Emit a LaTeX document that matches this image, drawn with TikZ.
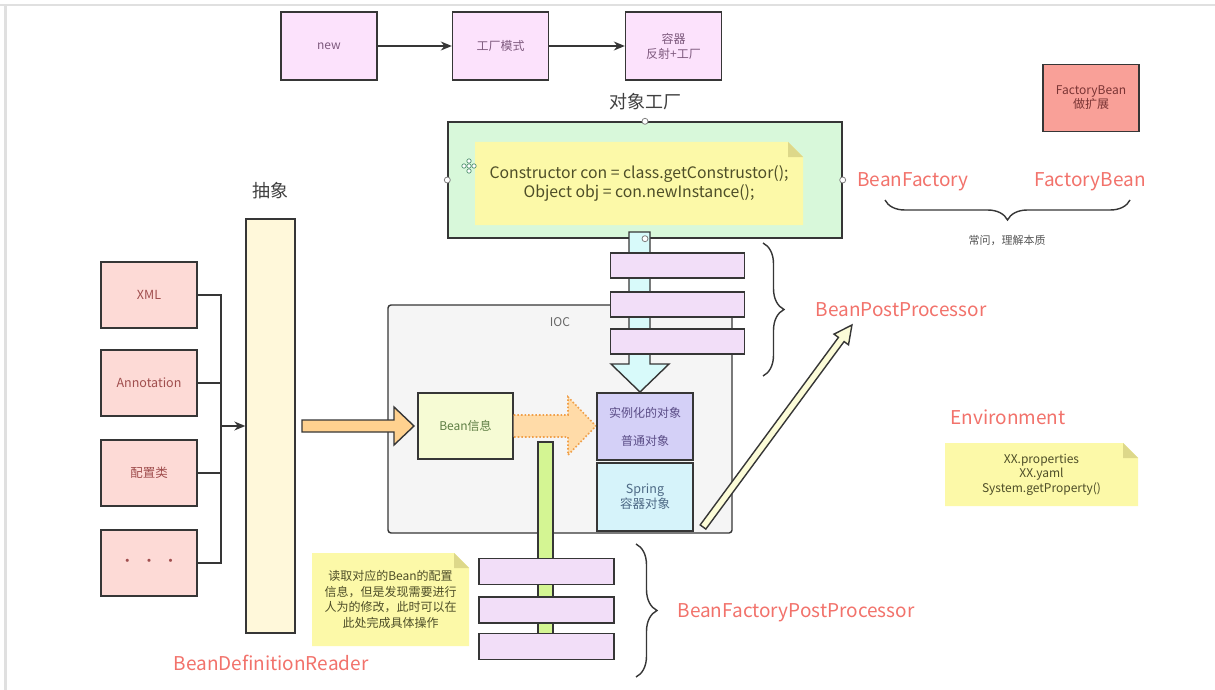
\documentclass[tikz,border=0pt]{standalone}
\usepackage{fontspec}
\setmainfont{Noto Sans CJK SC}
\usetikzlibrary{arrows.meta,decorations.pathreplacing,calc}
\definecolor{edge}{HTML}{363636}
\definecolor{topfill}{HTML}{FCE2FC}
\definecolor{toptext}{HTML}{7E5A7E}
\definecolor{facfill}{HTML}{D8F8DA}
\definecolor{notefill}{HTML}{FCF9A8}
\definecolor{foldfill}{HTML}{DDD88A}
\definecolor{notetext}{HTML}{4E4E28}
\definecolor{fbfill}{HTML}{F9A098}
\definecolor{fbtext}{HTML}{7A3434}
\definecolor{absfill}{HTML}{FFF8DA}
\definecolor{srcfill}{HTML}{FDDAD6}
\definecolor{srctext}{HTML}{A04E4E}
\definecolor{iocfill}{HTML}{F5F5F5}
\definecolor{beanfill}{HTML}{F6FBD4}
\definecolor{beantext}{HTML}{5E7E44}
\definecolor{instfill}{HTML}{D4D0F7}
\definecolor{insttext}{HTML}{5A4C86}
\definecolor{sprfill}{HTML}{D6F3FA}
\definecolor{sprtext}{HTML}{4E6A86}
\definecolor{cyanfill}{HTML}{D8FAFA}
\definecolor{barfill}{HTML}{F2DEF8}
\definecolor{greenbar}{HTML}{D4F593}
\definecolor{redlbl}{HTML}{F2726B}
\definecolor{orangefill}{HTML}{FFD18F}
\definecolor{dotfill}{HTML}{FFDBA8}
\definecolor{dotedge}{HTML}{F0A04A}
\definecolor{creamfill}{HTML}{FCFCD8}
\definecolor{graytext}{HTML}{555555}
\definecolor{iconcol}{HTML}{4E8E6E}
\begin{document}
\begin{tikzpicture}[x=1pt,y=-1pt,
  box/.style={draw=edge, line width=1.4pt, align=center, inner sep=1pt, font=\fontsize{12}{15}\selectfont},
  topbox/.style={box, fill=topfill, text=toptext, minimum width=96, minimum height=68},
  srcbox/.style={box, fill=srcfill, text=srctext, minimum width=96, minimum height=66, font=\fontsize{12.5}{15}\selectfont},
  barbox/.style={draw=edge, line width=1.4pt, fill=barfill, minimum width=134, minimum height=25, inner sep=0pt},
  conn/.style={draw=edge, line width=1.4pt, -{Stealth[length=11pt,width=9pt]}},
  plain/.style={draw=edge, line width=1.4pt},
  redlabel/.style={text=redlbl, font=\fontsize{19}{22}\selectfont, inner sep=0pt},
  handle/.style={circle, draw=gray, fill=white, line width=0.8pt, inner sep=0pt, minimum size=6pt},
  bracestyle/.style={draw=edge, line width=1.4pt, decorate, decoration={brace, amplitude=#1}},
  notebox/.style={align=center, text=notetext, inner sep=0pt, path picture={
    \fill[notefill] (path picture bounding box.north west)
      -- ([xshift=-15pt]path picture bounding box.north east)
      -- ([yshift=-15pt]path picture bounding box.north east)
      -- (path picture bounding box.south east)
      -- (path picture bounding box.south west) -- cycle;
    \fill[foldfill] ([xshift=-15pt]path picture bounding box.north east)
      -- ([xshift=-15pt,yshift=-15pt]path picture bounding box.north east)
      -- ([yshift=-15pt]path picture bounding box.north east) -- cycle;}}
]
\useasboundingbox (0,0) rectangle (1215,690);
\fill[white] (0,0) rectangle (1215,690);
\draw[black!12, line width=1.5pt] (0,5) -- (1215,5);
\draw[black!12, line width=3pt] (5,5) -- (5,690);

% top flow
\node[topbox] (new) at (329,46) {new};
\node[topbox] (fac) at (500.5,46) {工厂模式};
\node[topbox] (ctn) at (673.5,46) {容器\\反射+工厂};
\draw[conn] (new) -- (fac);
\draw[conn] (fac) -- (ctn);

% object factory
\node[text=black!75, font=\fontsize{18}{20}\selectfont] (objlbl) at (645,102) {对象工厂};
\node[draw=edge, line width=1.4pt, fill=facfill, minimum width=394, minimum height=116, inner sep=0pt] (objfac) at (645,180) {};
\node[notebox, minimum width=328, minimum height=83, font=\fontsize{15.8}{18.5}\selectfont] (code) at (639,183.5)
  {Constructor con = class.getConstrustor();\\Object obj = con.newInstance();};
\foreach \dx/\dy in {0/-5,0/5,-5/0,5/0,0/0}
  \draw[iconcol, line width=0.7pt, fill=white] ($(469,166)+(\dx,\dy)$) circle (2.2);

% BeanFactory / FactoryBean
\node[redlabel] (bf) at (913,182) {BeanFactory};
\node[redlabel] (fb) at (1090,182) {FactoryBean};
\draw[bracestyle=20] (1130,200) -- (885,200);
\node[text=graytext, font=\fontsize{11}{13}\selectfont] (ask) at (1007,240) {常问，理解本质};
\node[box, fill=fbfill, text=fbtext, minimum width=96, minimum height=67, font=\fontsize{12}{14}\selectfont] (fbx) at (1091,98) {FactoryBean\\做扩展};

% left sources
\node[text=black!75, font=\fontsize{18}{20}\selectfont] (abslbl) at (270,191) {抽象};
\node[draw=edge, line width=1.4pt, fill=absfill, minimum width=49, minimum height=414, inner sep=0pt] (abs) at (270.5,426) {};
\node[srcbox] (xml) at (149,295) {XML};
\node[srcbox] (ann) at (149,383) {Annotation};
\node[srcbox] (cfg) at (149,473) {配置类};
\node[srcbox, font=\fontsize{15}{15}\selectfont] (etc) at (149,563) {·\ \ ·\ \ ·};
\coordinate (jn) at (221,426);
\draw[plain] (xml.east) -| (jn);
\draw[plain] (ann.east) -| (jn);
\draw[plain] (cfg.east) -| (jn);
\draw[plain] (etc.east) -| (jn);
\draw[conn] (jn) -- (abs.west);

% IOC container
\draw[draw=edge, line width=1.4pt, fill=iocfill, rounded corners=3pt] (388,305) rectangle (732,533);
\node[text=black!60, font=\fontsize{12}{14}\selectfont] (ioclbl) at (560,322) {IOC};

\draw[plain, fill=greenbar] (538,442) rectangle (553,645);

\node[box, fill=beanfill, text=beantext, minimum width=95, minimum height=66] (bean) at (465.5,426) {Bean信息};
\draw[plain, fill=orangefill] (302,420) -- (394,420) -- (394,407) -- (414,426) -- (394,445) -- (394,432) -- (302,432) -- cycle;
\draw[draw=dotedge, line width=1.6pt, dotted, fill=dotfill] (bean.east |- 0,415) -- (568,415) -- (568,397) -- (596,426) -- (568,455) -- (568,437) -- (bean.east |- 0,437);
\node[box, fill=instfill, text=insttext, minimum width=96, minimum height=67, font=\fontsize{12}{28}\selectfont] (inst) at (645,426.5) {实例化的对象\\普通对象};
\node[box, fill=sprfill, text=sprtext, minimum width=96, minimum height=68, font=\fontsize{12.5}{15}\selectfont] (spr) at (645,497) {Spring\\容器对象};

% cyan arrow with post processors
\draw[plain, fill=cyanfill] (629,232) -- (650,232) -- (650,364) -- (669,364) -- (640,392) -- (611,364) -- (629,364) -- cycle;
\node[handle] at (objfac.north) {};
\node[handle] at (objfac.west) {};
\node[handle] at (objfac.east) {};
\node[handle] at (objfac.south) {};
\node[barbox] (p1) at (677.5,265.5) {};
\node[barbox] (p2) at (677.5,304.5) {};
\node[barbox] (p3) at (677.5,341.5) {};
\draw[bracestyle=21] (763,243) -- (763,376);
\node[redlabel] (bpp) at (901,310) {BeanPostProcessor};

% diagonal arrow
\begin{scope}[shift={(703,527)}, rotate=53.6]
\draw[plain, fill=creamfill] (0,-3.5) -- (233,-3.5) -- (233,-9) -- (251,0) -- (233,9) -- (233,3.5) -- (0,3.5) -- cycle;
\end{scope}

% bean factory post processors
\node[barbox, minimum width=135, minimum height=26] (q1) at (546.5,571.5) {};
\node[barbox, minimum width=135, minimum height=26] (q2) at (546.5,610) {};
\node[barbox, minimum width=135, minimum height=26] (q3) at (546.5,646.5) {};
\draw[bracestyle=21] (636,544) -- (636,677);
\node[redlabel] (bfpp) at (796,613) {BeanFactoryPostProcessor};

\node[notebox, minimum width=157, minimum height=93, font=\fontsize{12}{15.5}\selectfont] (tip) at (390.5,599.5)
  {读取对应的Bean的配置\\信息，但是发现需要进行\\人为的修改，此时可以在\\此处完成具体操作};
\node[redlabel] (bdr) at (271,663) {BeanDefinitionReader};

% environment
\node[redlabel] (env) at (1008,417) {Environment};
\node[notebox, minimum width=193, minimum height=63, font=\fontsize{12}{14.5}\selectfont] (envnote) at (1041.5,474.5)
  {XX.properties\\XX.yaml\\System.getProperty()};
\end{tikzpicture}
\end{document}
